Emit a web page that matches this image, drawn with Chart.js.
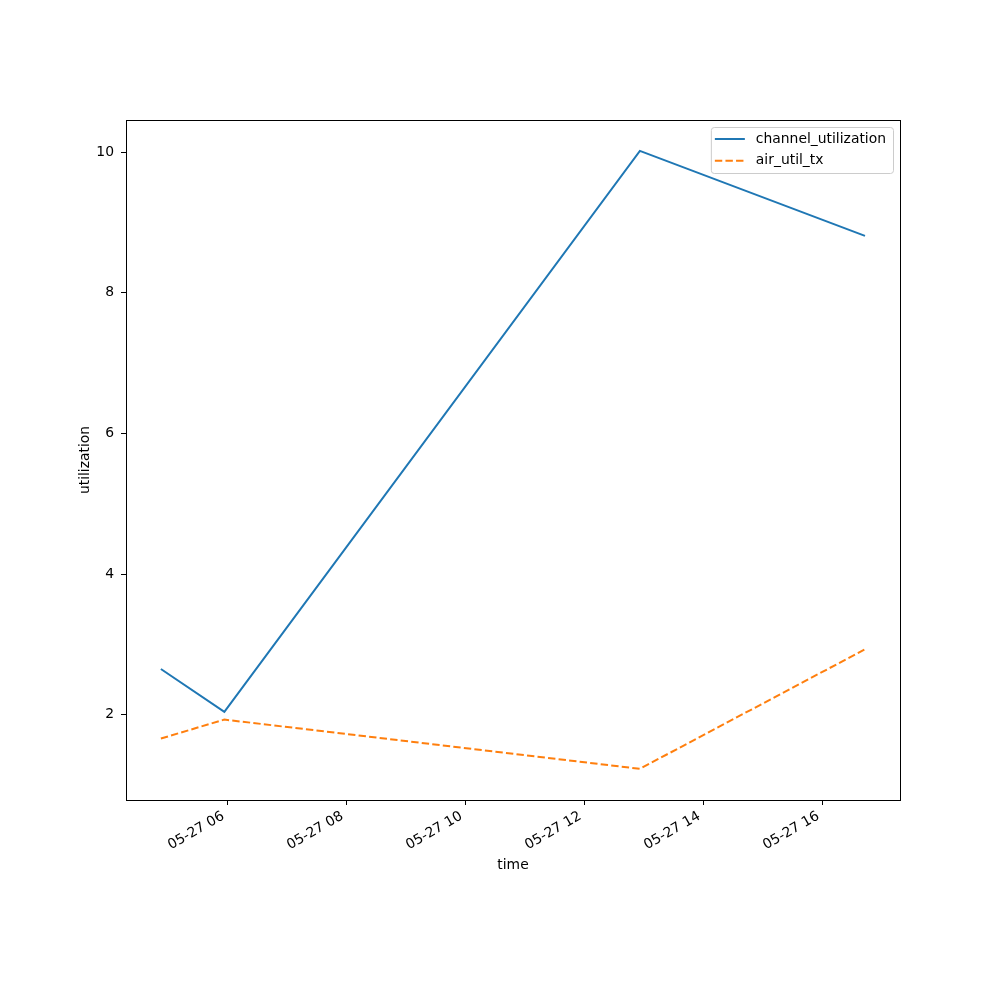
<!DOCTYPE html>
<html>
<head>
<meta charset="utf-8">
<script src="https://cdn.jsdelivr.net/npm/chart.js@4.4.0/dist/chart.umd.min.js"></script>
<style>
html,body{margin:0;padding:0;background:#fff;}
#wrap{width:1000px;height:1000px;}
</style>
</head>
<body>
<div id="wrap"><canvas id="c" width="1000" height="1000"></canvas></div>
<script>
// ---- data ----
const times = ['05-27 04:53', '05-27 05:57', '05-27 12:56', '05-27 16:43'];
const channelUtilization = [2.65, 2.04, 10.02, 8.81];
const airUtilTx = [1.66, 1.93, 1.23, 2.93];
const xTickHours = [6, 8, 10, 12, 14, 16];
const xTickLabels = ['05-27 06', '05-27 08', '05-27 10', '05-27 12', '05-27 14', '05-27 16'];
const yTicks = [2, 4, 6, 8, 10];

function toHours(s) {
  const hm = s.split(' ')[1].split(':');
  return parseInt(hm[0], 10) + parseInt(hm[1], 10) / 60;
}
const xs = times.map(toHours);

const FONT = {family: 'DejaVu Sans', size: 13.9};

const frame = {
  id: 'frame',
  afterDatasetsDraw(chart) {
    const {ctx, chartArea: a} = chart;
    ctx.save();
    ctx.strokeStyle = '#000';
    ctx.lineWidth = 1;
    ctx.strokeRect(Math.round(a.left) + 0.5, Math.round(a.top) + 0.5, Math.round(a.right - a.left), Math.round(a.bottom - a.top));
    ctx.restore();
  },
  afterDraw(chart) {
    const {ctx, chartArea: a} = chart;
    const ds = chart.data.datasets;
    ctx.save();
    ctx.font = '13.9px "DejaVu Sans"';
    let tw = 0;
    ds.forEach(d => { tw = Math.max(tw, ctx.measureText(d.label).width); });
    const w = 45 + tw + 7;
    const h = 46;
    const x0 = a.right - 7 - w;
    const y0 = a.top + 7;
    ctx.beginPath();
    ctx.roundRect(x0 + 0.5, y0 + 0.5, w, h, 3);
    ctx.fillStyle = 'rgba(255,255,255,0.8)';
    ctx.fill();
    ctx.strokeStyle = '#cccccc';
    ctx.lineWidth = 1;
    ctx.stroke();
    ds.forEach((d, i) => {
      const yy = y0 + 12 + i * 21.7;
      ctx.beginPath();
      ctx.setLineDash(d.borderDash || []);
      ctx.strokeStyle = d.borderColor;
      ctx.lineWidth = 2;
      ctx.moveTo(x0 + 4, yy);
      ctx.lineTo(x0 + 34, yy);
      ctx.stroke();
      ctx.setLineDash([]);
      ctx.fillStyle = '#000';
      ctx.textBaseline = 'middle';
      ctx.textAlign = 'left';
      ctx.fillText(d.label, x0 + 45, yy);
    });
    ctx.restore();
  }
};

new Chart(document.getElementById('c'), {
  type: 'line',
  data: {
    datasets: [
      {
        label: 'channel_utilization',
        data: xs.map((x, i) => ({x: x, y: channelUtilization[i]})),
        borderColor: '#1f77b4',
        borderWidth: 2,
        pointRadius: 0,
        fill: false,
        tension: 0
      },
      {
        label: 'air_util_tx',
        data: xs.map((x, i) => ({x: x, y: airUtilTx[i]})),
        borderColor: '#ff7f0e',
        borderWidth: 2,
        borderDash: [7.4, 3.2],
        pointRadius: 0,
        fill: false,
        tension: 0
      }
    ]
  },
  options: {
    responsive: false,
    animation: false,
    devicePixelRatio: 1,
    layout: {padding: {left: 73, right: 100, top: 120, bottom: 122}},
    plugins: {legend: {display: false}, tooltip: {enabled: false}},
    scales: {
      x: {
        type: 'linear',
        min: 4.297,
        max: 17.305,
        afterBuildTicks: s => { s.ticks = xTickHours.map(v => ({value: v})); },
        afterFit: s => { s.height = 78; },
        grid: {display: true, drawOnChartArea: false, drawTicks: true, tickLength: 5, color: '#000', tickColor: '#000'},
        border: {display: true, color: '#000', width: 1},
        ticks: {
          color: '#000',
          font: FONT,
          padding: 3,
          labelOffset: -4,
          autoSkip: false,
          maxRotation: 30,
          minRotation: 30,
          callback: (v) => { const k = xTickHours.indexOf(v); return k >= 0 ? xTickLabels[k] : ''; }
        },
        title: {display: true, text: 'time', color: '#000', font: FONT, padding: {top: 4, bottom: 4}}
      },
      y: {
        type: 'linear',
        min: 0.786,
        max: 10.459,
        afterBuildTicks: s => { s.ticks = yTicks.map(v => ({value: v})); },
        afterFit: s => { s.width = 53; },
        grid: {display: true, drawOnChartArea: false, drawTicks: true, tickLength: 5, color: '#000', tickColor: '#000'},
        border: {display: true, color: '#000', width: 1},
        ticks: {color: '#000', font: FONT, padding: 7, callback: v => String(v)},
        title: {display: true, text: 'utilization', color: '#000', font: FONT, padding: {top: 4, bottom: 4}}
      }
    }
  },
  plugins: [frame]
});
</script>
</body>
</html>
